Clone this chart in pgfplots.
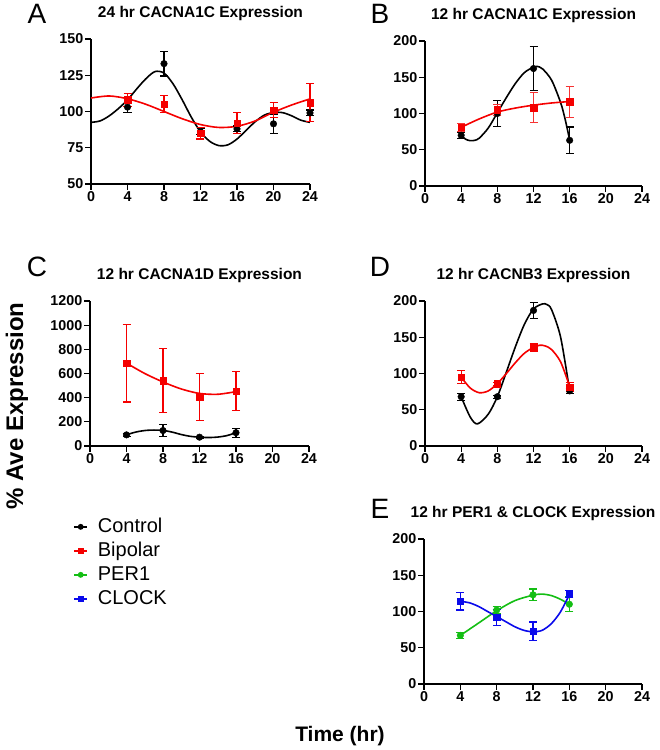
\documentclass[border=0pt]{standalone}
\usepackage{fontspec}
\setmainfont{Liberation Sans}
\usepackage{pgfplots}
\pgfplotsset{compat=1.18}

\definecolor{pgreen}{RGB}{20,190,20}
\definecolor{pblue}{RGB}{10,10,235}
\definecolor{pred}{RGB}{245,0,0}

\pgfplotsset{
  panel/.style={
    scale only axis, width=218pt, height=145pt,
    axis x line*=bottom, axis y line*=left,
    axis line style={line width=1.5pt, -},
    xmin=0, xmax=24, xtick={0,4,...,24},
    tick align=outside, major tick length=6pt,
    every tick/.style={black, line width=1.3pt},
    tick label style={font=\bfseries\fontsize{14.3}{14.3}\selectfont},
    xticklabel style={inner sep=1.5pt},
    yticklabel style={inner sep=1.5pt},
    /pgf/number format/assume math mode=true,
    /pgf/number format/1000 sep={},
    title style={font=\bfseries\fontsize{15.5}{15.5}\selectfont, at={(0.5,1)}, anchor=center, yshift=20pt},
    clip=false,
  },
  pts/.style={only marks, mark size=3.3pt,
    /pgfplots/error bars/y dir=both, /pgfplots/error bars/y explicit,
    /pgfplots/error bars/error bar style={line width=1.1pt},
    /pgfplots/error bars/error mark options={rotate=90, mark size=4pt, line width=1.1pt}},
  fit/.style={smooth, no markers, line width=1.6pt},
}

\begin{document}
\begin{tikzpicture}
\path[use as bounding box] (0,0) rectangle (659pt,750pt);

% A
\begin{axis}[panel, at={(91pt,566pt)}, width=219pt, ymin=50, ymax=150, ytick={50,75,...,150},
  title={24 hr CACNA1C Expression}]
\addplot[fit, black] coordinates {(0,92.5) (1,93.5) (2,97) (3,102) (4,108) (5,115.5) (6,122.5) (7,127.5) (8,126.5) (9,119) (10,108) (11,96) (12,86) (13,79.5) (14,76.5) (15,77) (16,81) (17,87) (18,93) (19,97.5) (20,99.3) (21,99.2) (22,97) (23,94) (24,92.5)};
\addplot[fit, pred] coordinates {(0,109.3) (2,110.7) (4,108.8) (6,105) (8,100) (10,95) (12,91) (14,89) (16,89.8) (18,93.5) (20,99.5) (22,104.5) (24,108.7)};
\addplot[pts, black, mark=*] coordinates {(4,103) +- (0,3.5) (8,133) +- (0,8.5) (12,86) +- (0,2) (16,88) +- (0,2) (20,91.5) +- (0,6.5) (24,99) +- (0,2)};
\addplot[pts, pred, mark=square*] coordinates {(4,108) +- (0,4.5) (8,105) +- (0,6) (12,85) +- (0,4) (16,92) +- (0,7) (20,101) +- (0,5) (24,106) +- (0,13)};
\end{axis}

% B
\begin{axis}[panel, at={(425pt,564pt)}, width=217pt, ymin=0, ymax=200, ytick={0,50,...,200},
  title={12 hr CACNA1C Expression}]
\addplot[fit, black] coordinates {(4,70) (4.5,64.5) (5,62.5) (5.5,63) (6,66) (7,80) (8,101) (9,122) (10,141.5) (11,156.5) (12,164) (12.4,165) (13,161.5) (14,146) (15,115) (15.5,92) (16,63.4)};
\addplot[fit, pred] coordinates {(4,81) (6,92.5) (8,102) (10,107.5) (12,111.5) (14,114.5) (16,116.5)};
\addplot[pts, black, mark=*] coordinates {(4,70) +- (0,4) (8,100) +- (0,18.5) (12,162) +- (0,30.5) (16,63) +- (0,18.4)};
\addplot[pts, pred, mark=square*, /pgfplots/error bars/error bar style={line width=0.8pt, pred!80}] coordinates {(4,81) +- (0,5.5) (8,105) +- (0,8) (12,108) +- (0,21) (16,116) +- (0,21)};
\end{axis}

% C
\begin{axis}[panel, at={(90pt,304pt)}, width=219pt, ymin=0, ymax=1200, ytick={0,200,...,1200},
  title={12 hr CACNA1D Expression},
  legend style={draw=none, fill=none, at={(-0.09,-0.47)}, anchor=north west,
    font=\fontsize{20}{20}\selectfont,
    nodes={inner sep=1pt, text height=15pt, text depth=4pt}, row sep=3pt,
    /tikz/every odd column/.append style={column sep=9pt}},
  legend cell align=left,
  legend image code/.code={\draw[mark repeat=2,mark phase=2,#1] plot coordinates {(0pt,0pt) (6.5pt,0pt) (13pt,0pt)};}]
\addplot[fit, black, forget plot] coordinates {(4,93) (5,115) (6,128) (7,132) (8,129) (9,115) (10,95) (11,80) (12,73) (13,70) (14,74) (15,86) (16,110)};
\addplot[fit, pred, forget plot] coordinates {(4,686) (6,600) (8,530) (10,472) (12,435) (14,428) (16,450)};
\addplot[pts, black, mark=*, forget plot] coordinates {(4,92) +- (0,10) (8,128) +- (0,50) (12,73) +- (0,8) (16,110) +- (0,37)};
\addplot[pts, pred, mark=square*, forget plot] coordinates {(4,686) +- (0,322) (8,541) +- (0,265) (12,406) +- (0,195) (16,453) +- (0,162)};
\addlegendimage{black, line width=1.4pt, mark=*, mark size=2.2pt}
\addlegendentry{Control}
\addlegendimage{pred, line width=1.4pt, mark=square*, mark size=2.2pt}
\addlegendentry{Bipolar}
\addlegendimage{pgreen, line width=1.4pt, mark=*, mark size=2.2pt}
\addlegendentry{PER1}
\addlegendimage{pblue, line width=1.4pt, mark=square*, mark size=2.2pt}
\addlegendentry{CLOCK}
\end{axis}

% D
\begin{axis}[panel, at={(425pt,304pt)}, width=217pt, ymin=0, ymax=200, ytick={0,50,...,200},
  title={12 hr CACNB3 Expression}]
\addplot[fit, black] coordinates {(4,68) (5,40) (5.8,30.5) (7,44) (8,68) (9,102) (10,137) (11,168) (12,189) (13,196) (13.5,195) (14,188) (15,150) (16,76)};
\addplot[fit, pred] coordinates {(4,95) (5,80) (6,73.5) (7,76) (8,86) (9,100) (10,115) (11,128) (12,136) (12.7,139) (13.3,138) (14,133) (15,116) (16,82)};
\addplot[pts, black, mark=*] coordinates {(4,68) +- (0,5) (8,68) +- (0,2) (12,187) +- (0,11.5) (16,76) +- (0,3)};
\addplot[pts, pred, mark=square*] coordinates {(4,95) +- (0,9) (8,86) +- (0,2) (12,136) +- (0,5) (16,81) +- (0,6)};
\end{axis}

% E
\begin{axis}[panel, at={(424pt,66pt)}, width=218pt, ymin=0, ymax=200, ytick={0,50,...,200},
  title={12 hr PER1 \& CLOCK Expression}]
\addplot[fit, pgreen] coordinates {(4,67) (6,84) (8,101) (10,115) (12,122.5) (13,124) (14,122) (15,117) (16,110)};
\addplot[fit, pblue] coordinates {(4,114) (5,112) (6,107) (7,100) (8,93) (9,86) (10,79) (11,74) (12,72) (13,74) (14,83) (15,99) (16,123)};
\addplot[pts, pgreen, mark=*] coordinates {(4,67) +- (0,4) (8,102) +- (0,5) (12,123) +- (0,8) (16,110) +- (0,10)};
\addplot[pts, pblue, mark=square*] coordinates {(4,114) +- (0,12) (8,92) +- (0,11) (12,73) +- (0,12.5) (16,124) +- (0,5)};
\end{axis}

% panel letters and shared labels
\node[font=\fontsize{28}{28}\selectfont] at (37pt,736pt) {A};
\node[font=\fontsize{28}{28}\selectfont] at (380pt,736pt) {B};
\node[font=\fontsize{28}{28}\selectfont] at (37pt,483pt) {C};
\node[font=\fontsize{28}{28}\selectfont] at (380pt,483pt) {D};
\node[font=\fontsize{28}{28}\selectfont] at (380pt,241pt) {E};
\node[font=\bfseries\fontsize{24}{24}\selectfont, rotate=90] at (17pt,344pt) {\% Ave Expression};
\node[font=\bfseries\fontsize{21}{21}\selectfont] at (340pt,14pt) {Time (hr)};
\end{tikzpicture}
\end{document}
